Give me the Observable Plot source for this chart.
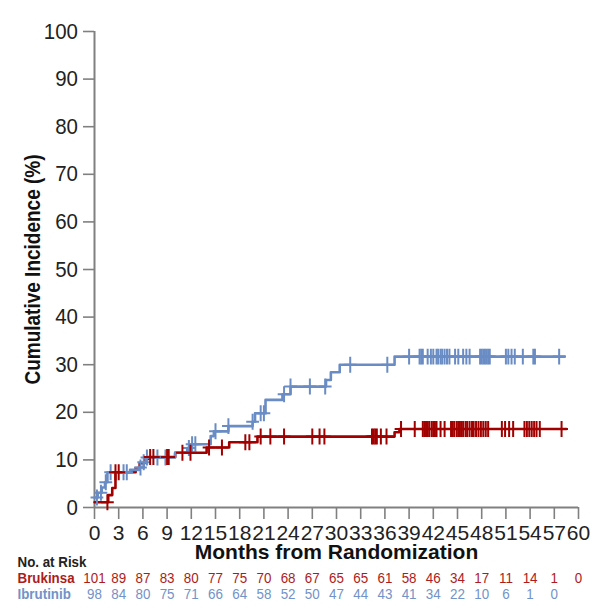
<!DOCTYPE html>
<html>
<head>
<meta charset="utf-8">
<script src="https://cdn.jsdelivr.net/npm/d3@7"></script>
<script src="https://cdn.jsdelivr.net/npm/@observablehq/plot@0.6"></script>
<style>
  html, body { margin: 0; padding: 0; background: #fff; }
</style>
</head>
<body>
<div id="chart"></div>
<script>
// ---- Data ----
const xTicks = [0, 3, 6, 9, 12, 15, 18, 21, 24, 27, 30, 33, 36, 39, 42, 45, 48, 51, 54, 57, 60];
const yTicks = [0, 10, 20, 30, 40, 50, 60, 70, 80, 90, 100];

// Ibrutinib cumulative incidence step curve (month, %)
const ibrutinibTime = [0, 0.4, 0.9, 1.3, 1.6, 4.4, 5.5, 6.1, 6.4, 10.0, 11.5, 12.1, 14.4, 14.8, 16.6, 19.6, 19.9, 21.2, 23.3, 24.3, 28.7, 29.3, 30.4, 37.2, 58.3];
const ibrutinibCI   = [2.1, 3.1, 4.2, 5.3, 7.4, 7.9, 8.4, 9.5, 10.5, 11.5, 12.5, 13.3, 15.0, 16.0, 17.1, 18.0, 19.8, 22.6, 23.8, 25.4, 26.8, 28.4, 30.0, 31.7, 31.7];
const ibrutinibCensor = [0.3, 0.8, 1.4, 2.0, 3.6, 4.0, 5.7, 6.1, 6.5, 7.8, 8.8, 11.7, 12.1, 12.5, 15.0, 16.6, 19.6, 20.6, 21.0, 23.5, 24.3, 26.7, 28.6, 31.7, 36.3, 39.0, 40.3, 40.5, 40.7, 41.3, 41.7, 42.0, 42.4, 42.6, 42.9, 43.1, 43.4, 43.7, 44.0, 44.7, 45.1, 45.7, 46.1, 46.5, 47.8, 48.0, 48.2, 48.4, 48.6, 48.8, 49.0, 51.0, 51.3, 51.7, 52.1, 53.1, 54.4, 54.6, 57.6];

// Brukinsa cumulative incidence step curve (month, %)
const brukinsaTime = [0, 1.7, 2.2, 2.6, 5.1, 5.6, 6.2, 6.7, 10.0, 13.9, 16.7, 20.2, 37.2, 37.8, 58.5];
const brukinsaCI   = [1.1, 2.6, 4.1, 7.4, 8.3, 9.3, 10.2, 10.6, 11.5, 12.6, 13.7, 14.9, 15.8, 16.5, 16.5];
const brukinsaCensor = [1.6, 2.6, 3.0, 6.9, 7.3, 9.0, 9.2, 10.9, 11.9, 14.2, 15.8, 18.7, 19.2, 20.6, 21.8, 23.5, 27.0, 27.9, 28.5, 34.4, 34.6, 34.8, 35.0, 35.5, 36.2, 38.0, 39.7, 40.7, 40.9, 41.1, 41.3, 41.5, 41.8, 42.0, 42.2, 42.4, 42.9, 43.4, 44.2, 44.4, 44.6, 44.9, 45.1, 45.3, 45.5, 45.7, 46.0, 46.2, 46.5, 46.8, 47.0, 47.3, 47.6, 47.9, 48.2, 48.5, 48.8, 50.5, 50.9, 51.4, 51.9, 53.3, 53.6, 53.9, 54.2, 54.5, 54.8, 55.2, 57.9];

// Number at risk
const riskMonths = [0, 3, 6, 9, 12, 15, 18, 21, 24, 27, 30, 33, 36, 39, 42, 45, 48, 51, 54, 57, 60];
const brukinsaRisk  = [101, 89, 87, 83, 80, 77, 75, 70, 68, 67, 65, 65, 61, 58, 46, 34, 17, 11, 14, 1, 0];
const ibrutinibRisk = [98, 84, 80, 75, 71, 66, 64, 58, 52, 50, 47, 44, 43, 41, 34, 22, 10, 6, 1, 0];

const RED = "#a00000";
const BLUE = "#6a8cc4";
const RED_TXT = "#ad1c1c";
const BLUE_TXT = "#7292c8";
const FONT = "'Liberation Sans', Arial, Helvetica, sans-serif";

// font sizes (also used to find each text group afterwards)
const FS = {yTick: 22, xTick: 21, yTitle: 22.5, xTitle: 21, riskLab: 15, riskNum: 14.9};
// horizontal condensing per text group (the reference uses a narrow face)
const SQUEEZE = {yTick: 0.93, xTick: 0.81, yTitle: 0.845, xTitle: 1.0, riskLab: 0.89, riskNum: 0.9};

// ---- Build tables ----
const steps = (times, vals) => times.map((t, i) => ({t, v: vals[i]}));
const valueAt = (times, vals, t) => vals[Math.max(0, d3.bisectRight(times, t) - 1)];
const ibrutinibLine = steps(ibrutinibTime, ibrutinibCI);
const brukinsaLine = steps(brukinsaTime, brukinsaCI);
const ibrutinibMarks = ibrutinibCensor.map(t => ({t, v: valueAt(ibrutinibTime, ibrutinibCI, t)}));
const brukinsaMarks = brukinsaCensor.map(t => ({t, v: valueAt(brukinsaTime, brukinsaCI, t)}));

// plus-shaped censor symbol (stroked)
const censorSymbol = {
  draw(context, size) {
    const h = Math.sqrt(size);
    context.moveTo(0, -h);
    context.lineTo(0, h);
    context.moveTo(-h * 0.8, 0);
    context.lineTo(h * 0.8, 0);
  }
};

const chart = Plot.plot({
  width: 593,
  height: 610,
  marginTop: 31,
  marginBottom: 103,
  marginLeft: 94,
  marginRight: 15,
  style: {fontFamily: FONT, color: "#222", background: "#fff"},
  x: {domain: [0, 60]},
  y: {domain: [0, 100]},
  marks: [
    Plot.axisY({ticks: yTicks, tickSize: 11, tickPadding: 5.5, stroke: "#808080", strokeWidth: 1.6, fontSize: FS.yTick, fill: "#222", label: null}),
    Plot.axisX({ticks: xTicks, tickSize: 12, tickPadding: 5.5, stroke: "#808080", strokeWidth: 1.6, fontSize: FS.xTick, fill: "#222", label: null}),
    Plot.ruleX([0], {stroke: "#808080", strokeWidth: 2}),
    Plot.ruleY([0], {stroke: "#808080", strokeWidth: 2}),
    Plot.line(brukinsaLine, {x: "t", y: "v", curve: "step-after", stroke: RED, strokeWidth: 2.6}),
    Plot.line(ibrutinibLine, {x: "t", y: "v", curve: "step-after", stroke: BLUE, strokeWidth: 2.6}),
    Plot.dot(ibrutinibMarks, {x: "t", y: "v", symbol: censorSymbol, r: 4.5, stroke: BLUE, strokeWidth: 2, fill: "none"}),
    Plot.dot(brukinsaMarks, {x: "t", y: "v", symbol: censorSymbol, r: 4.5, stroke: RED, strokeWidth: 2, fill: "none"}),
    // axis titles
    Plot.text(["Cumulative Incidence (%)"], {frameAnchor: "left", textAnchor: "middle", rotate: -90, dx: -61.7, fontSize: FS.yTitle, fontWeight: "bold", fill: "#111"}),
    Plot.text(["Months from Randomization"], {frameAnchor: "bottom", dy: 51, fontSize: FS.xTitle, fontWeight: "bold", fill: "#111"}),
    // risk table
    Plot.text(["No. at Risk"], {frameAnchor: "bottom-left", dx: -77, dy: 59.5, textAnchor: "start", fontSize: FS.riskLab, fontWeight: "bold", fill: "#222"}),
    Plot.text(["Brukinsa"], {frameAnchor: "bottom-left", dx: -77, dy: 75, textAnchor: "start", fontSize: FS.riskLab, fontWeight: "bold", fill: RED_TXT}),
    Plot.text(["Ibrutinib"], {frameAnchor: "bottom-left", dx: -77, dy: 91, textAnchor: "start", fontSize: FS.riskLab, fontWeight: "bold", fill: BLUE_TXT}),
    Plot.text(brukinsaRisk, {x: (d, i) => riskMonths[i], text: d => d, frameAnchor: "bottom", dy: 75, fontSize: FS.riskNum, fill: RED_TXT}),
    Plot.text(ibrutinibRisk, {x: (d, i) => riskMonths[i], text: d => d, frameAnchor: "bottom", dy: 91, fontSize: FS.riskNum, fill: BLUE_TXT})
  ]
});
document.getElementById("chart").appendChild(chart);

// condense each text group horizontally, around its own anchor
const sizeToKey = new Map(Object.entries(FS).map(([k, v]) => [String(v), k]));
chart.querySelectorAll("text").forEach(el => {
  let node = el, fs = null;
  while (node && node !== chart && fs == null) {
    const a = node.getAttribute && node.getAttribute("font-size");
    if (a != null) fs = a; else node = node.parentNode;
  }
  if (fs == null) return;
  const key = sizeToKey.get(String(parseFloat(fs)));
  if (!key) return;
  const s = SQUEEZE[key];
  if (s === 1) return;
  const t = el.getAttribute("transform");
  if (t) {
    el.setAttribute("transform", `${t} scale(${s},1)`);
  } else {
    const x = +el.getAttribute("x") || 0, y = +el.getAttribute("y") || 0;
    el.removeAttribute("x"); el.removeAttribute("y");
    el.setAttribute("transform", `translate(${x},${y}) scale(${s},1)`);
  }
});
</script>
</body>
</html>
